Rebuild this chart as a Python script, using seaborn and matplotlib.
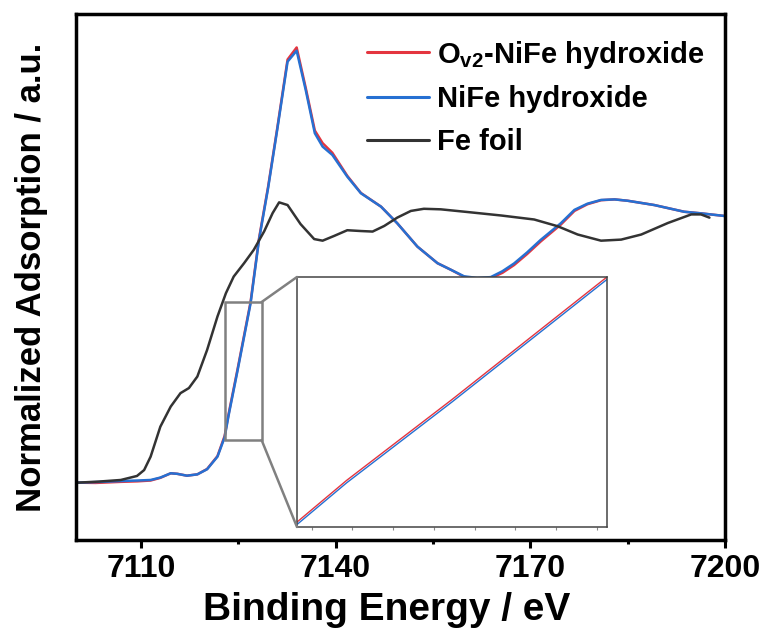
import numpy as np
import pandas as pd
import matplotlib
matplotlib.use("Agg")
import matplotlib.pyplot as plt
from matplotlib.patches import Rectangle, ConnectionPatch
from matplotlib.ticker import FixedLocator
import seaborn as sns

# ---------------- data ----------------
x_nife = [7100.2, 7103.0, 7106.9, 7109.5, 7111.5, 7113.0, 7114.6, 7115.6, 7117.1, 7118.7,
          7120.2, 7121.8, 7122.9, 7123.54, 7124.9, 7126.9, 7128.2, 7129.6, 7131.0, 7132.6,
          7134.0, 7135.4, 7136.8, 7138.0, 7139.5, 7141.8, 7143.9, 7147.0, 7149.5, 7152.6,
          7155.7, 7157.8, 7159.8, 7161.8, 7163.9, 7165.7, 7167.5, 7169.5, 7171.6, 7174.7,
          7176.8, 7178.8, 7180.9, 7183.0, 7185.0, 7189.1, 7193.7, 7196.3, 7200.0]
y_nife = [0.001, 0.003, 0.007, 0.009, 0.011, 0.020, 0.036, 0.034, 0.027, 0.032,
          0.051, 0.098, 0.170, 0.255, 0.420, 0.670, 0.907, 1.100, 1.317, 1.572,
          1.613, 1.466, 1.305, 1.255, 1.224, 1.143, 1.081, 1.031, 0.969, 0.882,
          0.820, 0.795, 0.771, 0.765, 0.768, 0.790, 0.819, 0.860, 0.907, 0.969,
          1.019, 1.042, 1.056, 1.058, 1.053, 1.037, 1.012, 1.006, 0.996]

x_ov2 = [7100.2, 7103.0, 7106.9, 7109.5, 7111.5, 7113.0, 7114.6, 7115.6, 7117.1, 7118.7,
         7120.2, 7121.8, 7122.9, 7123.54, 7124.9, 7126.9, 7128.2, 7129.6, 7131.0, 7132.6,
         7134.0, 7135.4, 7136.8, 7138.0, 7139.5, 7141.8, 7143.9, 7147.0, 7149.5, 7152.6,
         7155.7, 7157.8, 7159.8, 7161.8, 7163.9, 7165.7, 7167.5, 7169.5, 7171.6, 7174.7,
         7176.8, 7178.8, 7180.9, 7183.0, 7185.0, 7189.1, 7193.7, 7196.3, 7200.0]
y_ov2 = [0.001, 0.000, 0.004, 0.006, 0.009, 0.019, 0.036, 0.034, 0.027, 0.032,
         0.052, 0.100, 0.175, 0.260, 0.425, 0.675, 0.912, 1.105, 1.322, 1.580,
         1.625, 1.474, 1.315, 1.268, 1.232, 1.146, 1.082, 1.031, 0.969, 0.882,
         0.820, 0.795, 0.769, 0.762, 0.764, 0.784, 0.813, 0.854, 0.901, 0.964,
         1.015, 1.040, 1.055, 1.058, 1.053, 1.037, 1.012, 1.006, 0.996]

x_fe = [7100.2, 7103.5, 7106.9, 7109.4, 7110.5, 7111.5, 7113.0, 7114.6, 7116.1, 7117.4,
        7118.7, 7120.2, 7121.8, 7123.1, 7124.3, 7125.9, 7127.4, 7129.0, 7130.3, 7131.3,
        7132.6, 7134.6, 7136.7, 7138.0, 7139.8, 7141.8, 7143.9, 7145.7, 7147.5, 7149.5,
        7151.6, 7153.6, 7156.2, 7160.3, 7165.5, 7170.6, 7174.2, 7177.3, 7180.9, 7184.0,
        7187.1, 7191.2, 7194.8, 7196.3, 7197.6]
y_fe = [0.001, 0.005, 0.011, 0.026, 0.048, 0.098, 0.210, 0.285, 0.335, 0.354,
        0.397, 0.496, 0.621, 0.708, 0.770, 0.820, 0.870, 0.939, 1.007, 1.047,
        1.037, 0.966, 0.910, 0.904, 0.922, 0.943, 0.940, 0.938, 0.959, 0.990,
        1.015, 1.023, 1.021, 1.011, 0.998, 0.983, 0.958, 0.927, 0.904, 0.908,
        0.927, 0.970, 1.002, 1.002, 0.990]

labels = [r"O$_{\mathregular{v2}}$-NiFe hydroxide", "NiFe hydroxide", "Fe foil"]
colors = ["#E4353F", "#2670D2", "#333333"]
xticks_major = [7110, 7140, 7170, 7200]
xticks_minor = [7125, 7155, 7185]

# ---------------- style ----------------
sns.set_style("ticks")
plt.rcParams["font.family"] = ["Liberation Sans", "DejaVu Sans"]
plt.rcParams["font.weight"] = "bold"
plt.rcParams["text.color"] = "black"
plt.rcParams["axes.labelcolor"] = "black"
plt.rcParams["xtick.color"] = "black"
plt.rcParams["ytick.color"] = "black"
plt.rcParams["mathtext.fontset"] = "custom"
plt.rcParams["mathtext.rm"] = "Liberation Sans:bold"
plt.rcParams["mathtext.bf"] = "Liberation Sans:bold"
plt.rcParams["mathtext.it"] = "Liberation Sans:bold"

df = pd.concat([
    pd.DataFrame({"E": x_ov2, "mu": y_ov2, "s": labels[0]}),
    pd.DataFrame({"E": x_nife, "mu": y_nife, "s": labels[1]}),
    pd.DataFrame({"E": x_fe, "mu": y_fe, "s": labels[2]}),
], ignore_index=True)

fig = plt.figure(figsize=(7.69, 6.35), dpi=100)
ax = fig.add_axes([0.0988, 0.1496, 0.8440, 0.8284])

for lab, col in zip(labels, colors):
    sub = df[df["s"] == lab]
    sns.lineplot(data=sub, x="E", y="mu", ax=ax, color=col, lw=1.8,
                 label=lab, estimator=None, sort=True)

ax.set_xlim(7100, 7200)
ax.set_ylim(-0.213, 1.75)
ax.set_yticks([])
ax.xaxis.set_major_locator(FixedLocator(xticks_major))
ax.xaxis.set_minor_locator(FixedLocator(xticks_minor))
ax.tick_params(axis="x", which="major", direction="out", length=6, width=2.2,
               labelsize=23, pad=4, color="black", labelcolor="black")
ax.tick_params(axis="x", which="minor", direction="out", length=3, width=2.2,
               color="black")
for sp in ax.spines.values():
    sp.set_linewidth(2.5)
    sp.set_color("black")
    sp.set_visible(True)

ax.set_xlabel("Binding Energy / eV", fontsize=28, fontweight="bold", color="black")
ax.set_ylabel("Normalized Adsorption / a.u.", fontsize=25, fontweight="bold", color="black")
ax.xaxis.set_label_coords(0.478, -0.098)
ax.yaxis.set_label_coords(-0.043, 0.5)

leg = ax.legend(loc="upper left", bbox_to_anchor=(0.449, 0.953), frameon=False,
                fontsize=21, handlelength=2.1, handletextpad=0.3, labelspacing=0.5,
                borderpad=0.0, borderaxespad=0.0)
for t in leg.get_texts():
    t.set_fontweight("bold")
    t.set_color("black")
for h in leg.get_lines():
    h.set_linewidth(2.2)

# ---------------- zoom box + inset ----------------
bx0, bx1, by0, by1 = 7122.9, 7128.6, 0.160, 0.675
ax.add_patch(Rectangle((bx0, by0), bx1 - bx0, by1 - by0, fill=False,
                       edgecolor="#808080", lw=1.8, zorder=5))

axins = fig.add_axes([0.3862, 0.1701, 0.4031, 0.3937])
axins.set_facecolor("white")
for lab, col in zip(labels[:2], colors[:2]):
    sub = df[df["s"] == lab]
    sns.lineplot(data=sub, x="E", y="mu", ax=axins, color=col, lw=1.0,
                 estimator=None, sort=True, legend=False)
axins.set_xlim(7122.9, 7126.9)
axins.set_ylim(0.165, 0.675)
axins.set_xlabel("")
axins.set_ylabel("")
axins.set_yticks([])
axins.set_xticks(np.linspace(7123.09, 7126.77, 8))
axins.set_xticklabels([])
axins.tick_params(axis="x", direction="out", length=2.5, width=0.8, color="#888888")
for sp in axins.spines.values():
    sp.set_linewidth(1.1)
    sp.set_color("#444444")

for (xa, ya), (xb, yb) in [((bx1, by1), (0, 1)), ((bx1, by0), (0, 0))]:
    cp = ConnectionPatch(xyA=(xa, ya), coordsA=ax.transData,
                         xyB=(xb, yb), coordsB=axins.transAxes,
                         color="#808080", lw=1.8)
    fig.add_artist(cp)

fig.savefig("out.png", dpi=100)
